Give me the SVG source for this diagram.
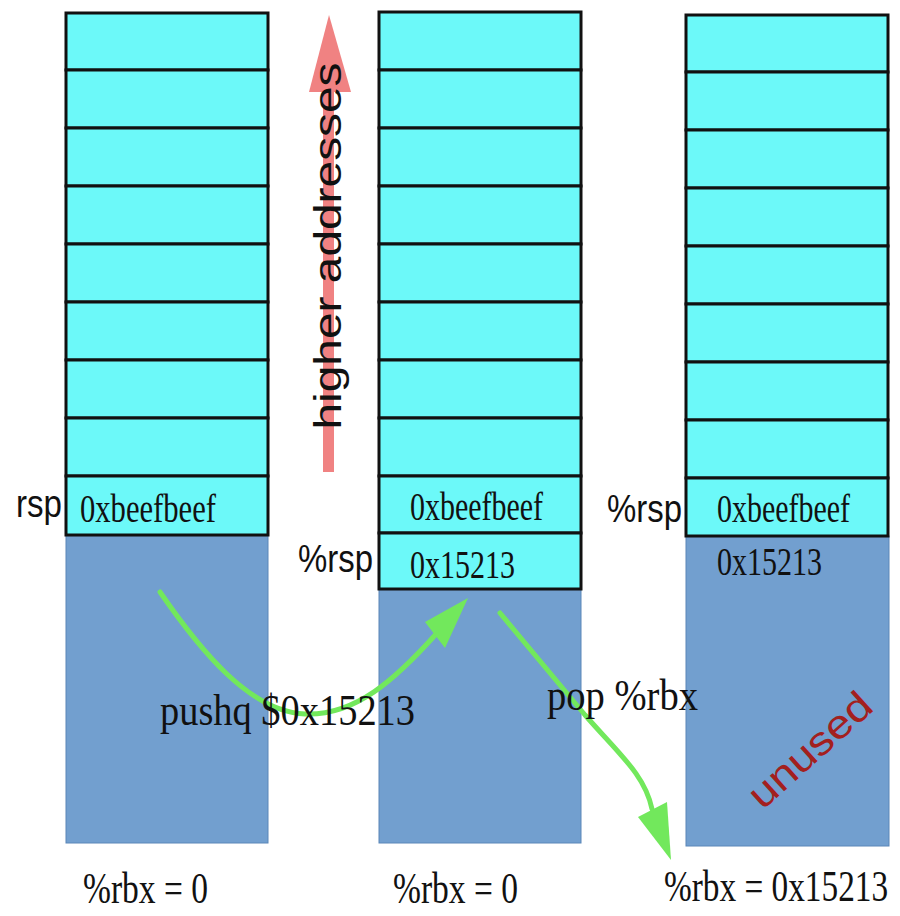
<svg xmlns="http://www.w3.org/2000/svg" width="900" height="916" viewBox="0 0 900 916">
  <style>
    .cell { fill: #6cf9f9; stroke: #111; stroke-width: 3; }
    .free { fill: #729fcf; stroke: #5a86b8; stroke-width: 1; }
    .val { font-family: "Liberation Serif", "DejaVu Serif", serif; font-size: 40px; fill: #111; }
    .lbl { font-family: "Liberation Serif", "DejaVu Serif", serif; font-size: 44px; fill: #111; }
    .reg { font-family: "Liberation Sans", Arial, sans-serif; font-size: 38px; fill: #111; }
    .green { fill: none; stroke: #72e85c; stroke-width: 5; stroke-linecap: round; }
    .ghead { fill: #72e85c; }
  </style>
  <rect width="900" height="916" fill="#ffffff"/>

  <!-- higher addresses arrow -->
  <g id="addr-arrow">
    <rect x="323" y="90" width="11" height="382" fill="#f08282"/>
    <polygon points="309,92 351,92 329,15" fill="#f08282"/>
    <text class="reg" transform="translate(341,246) rotate(-90)" text-anchor="middle" font-size="38" textLength="367" lengthAdjust="spacingAndGlyphs">higher addresses</text>
  </g>

  <!-- stack 1 -->
  <g id="stack1">
    <rect class="free" x="66" y="535" width="202" height="308"/>
    <rect class="cell" x="66" y="13" width="202" height="57"/>
    <rect class="cell" x="66" y="70" width="202" height="58"/>
    <rect class="cell" x="66" y="128" width="202" height="58"/>
    <rect class="cell" x="66" y="186" width="202" height="58"/>
    <rect class="cell" x="66" y="244" width="202" height="58"/>
    <rect class="cell" x="66" y="302" width="202" height="58"/>
    <rect class="cell" x="66" y="360" width="202" height="58"/>
    <rect class="cell" x="66" y="418" width="202" height="58"/>
    <rect class="cell" x="66" y="476" width="202" height="59"/>
    <text class="val" x="80" y="522" textLength="136" lengthAdjust="spacingAndGlyphs">0xbeefbeef</text>
    <text class="reg" x="16" y="517" textLength="46" lengthAdjust="spacingAndGlyphs">rsp</text>
    <text class="lbl" x="83" y="903" textLength="125" lengthAdjust="spacingAndGlyphs">%rbx = 0</text>
  </g>

  <!-- stack 2 -->
  <g id="stack2">
    <rect class="free" x="379" y="589" width="202" height="254"/>
    <rect class="cell" x="379" y="12" width="202" height="58"/>
    <rect class="cell" x="379" y="70" width="202" height="58"/>
    <rect class="cell" x="379" y="128" width="202" height="58"/>
    <rect class="cell" x="379" y="186" width="202" height="58"/>
    <rect class="cell" x="379" y="244" width="202" height="58"/>
    <rect class="cell" x="379" y="302" width="202" height="58"/>
    <rect class="cell" x="379" y="360" width="202" height="58"/>
    <rect class="cell" x="379" y="418" width="202" height="58"/>
    <rect class="cell" x="379" y="476" width="202" height="57"/>
    <rect class="cell" x="379" y="533" width="202" height="56"/>
    <text class="val" x="410" y="520" textLength="133" lengthAdjust="spacingAndGlyphs">0xbeefbeef</text>
    <text class="val" x="410" y="578" textLength="105" lengthAdjust="spacingAndGlyphs">0x15213</text>
    <text class="reg" x="298" y="572" textLength="75" lengthAdjust="spacingAndGlyphs">%rsp</text>
    <text class="lbl" x="393" y="903" textLength="125" lengthAdjust="spacingAndGlyphs">%rbx = 0</text>
  </g>

  <!-- stack 3 -->
  <g id="stack3">
    <rect class="free" x="686" y="536" width="203" height="310"/>
    <rect class="cell" x="686" y="15" width="202" height="57"/>
    <rect class="cell" x="686" y="72" width="202" height="58"/>
    <rect class="cell" x="686" y="130" width="202" height="58"/>
    <rect class="cell" x="686" y="188" width="202" height="58"/>
    <rect class="cell" x="686" y="246" width="202" height="58"/>
    <rect class="cell" x="686" y="304" width="202" height="58"/>
    <rect class="cell" x="686" y="362" width="202" height="58"/>
    <rect class="cell" x="686" y="420" width="202" height="58"/>
    <rect class="cell" x="686" y="478" width="202" height="58"/>
    <text class="val" x="717" y="522" textLength="133" lengthAdjust="spacingAndGlyphs">0xbeefbeef</text>
    <text class="val" x="717" y="575" textLength="105" lengthAdjust="spacingAndGlyphs">0x15213</text>
    <text class="reg" x="607" y="522" textLength="75" lengthAdjust="spacingAndGlyphs">%rsp</text>
    <text class="lbl" transform="translate(664,901) scale(0.757,1)" x="0" y="0">%rbx = 0x15213</text>
    <text transform="translate(819,760) rotate(-42)" text-anchor="middle" font-family="Liberation Sans, Arial, sans-serif" font-size="40" fill="#a3201e" textLength="152" lengthAdjust="spacingAndGlyphs">unused</text>
  </g>

  <!-- connectors -->
  <g id="connectors">
    <path class="green" d="M160,592 C200,650 250,712 305,714 C355,716 395,680 437,633"/>
    <polygon class="ghead" points="425,622 445,648 468,598"/>
    <path class="green" d="M500,613 L585,715 C620,755 645,775 652,809"/>
    <polygon class="ghead" points="638,817 667,802 671,860"/>
  </g>

  <!-- operation labels -->
  <g id="labels">
    <text class="lbl" x="160" y="725" textLength="255" lengthAdjust="spacingAndGlyphs">pushq $0x15213</text>
    <text class="lbl" x="547" y="710" textLength="151" lengthAdjust="spacingAndGlyphs">pop %rbx</text>
  </g>
</svg>
